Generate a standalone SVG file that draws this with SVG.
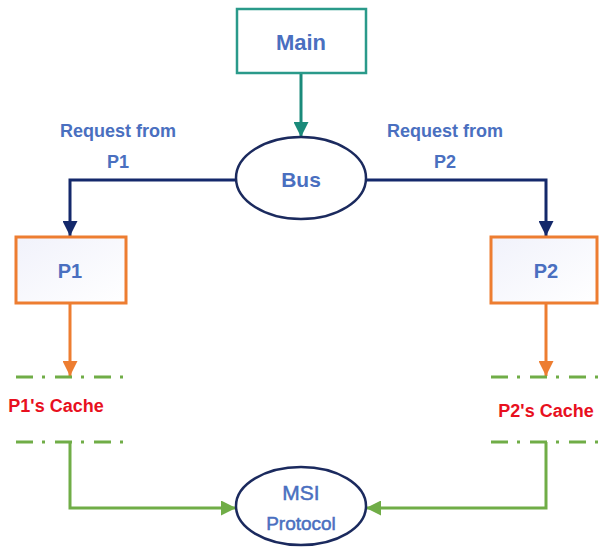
<svg xmlns="http://www.w3.org/2000/svg" width="599" height="547" viewBox="0 0 599 547">
  <style>
    .lbl { font-family: "Liberation Sans", Arial, sans-serif; fill: #4a6fc0; text-anchor: middle; }
    .b { font-weight: bold; }
    .semi { stroke: #4a6fc0; stroke-width: 0.5; }
    .cache { font-family: "Liberation Sans", Arial, sans-serif; font-weight: bold; fill: #e8101e; text-anchor: middle; font-size: 18px; }
    .proc { fill: url(#procFill); stroke: #ed7d31; stroke-width: 3; }
    .oval { fill: #ffffff; stroke: #1b2a5e; stroke-width: 2.5; }
    .dash { stroke: #70ad47; stroke-width: 3; stroke-dasharray: 17 9 3 10; fill: none; }
    .navy { stroke: #14296b; stroke-width: 3; fill: none; }
    .orange { stroke: #ed7d31; stroke-width: 3; fill: none; }
    .green { stroke: #70ad47; stroke-width: 3; fill: none; }
    .teal { stroke: #1a8a7a; stroke-width: 3; fill: none; }
  </style>
  <defs>
    <linearGradient id="procFill" x1="0" y1="0" x2="1" y2="1">
      <stop offset="0" stop-color="#f1f2fb"/>
      <stop offset="1" stop-color="#ffffff"/>
    </linearGradient>
    <marker id="arNavy" viewBox="0 0 10 10" refX="10" refY="5" markerWidth="5" markerHeight="5" orient="auto" markerUnits="strokeWidth">
      <path d="M0,0 L10,5 L0,10 Z" fill="#14296b"/>
    </marker>
    <marker id="arTeal" viewBox="0 0 10 10" refX="10" refY="5" markerWidth="5" markerHeight="5" orient="auto" markerUnits="strokeWidth">
      <path d="M0,0 L10,5 L0,10 Z" fill="#1a8a7a"/>
    </marker>
    <marker id="arOrange" viewBox="0 0 10 10" refX="10" refY="5" markerWidth="5" markerHeight="5" orient="auto" markerUnits="strokeWidth">
      <path d="M0,0 L10,5 L0,10 Z" fill="#ed7d31"/>
    </marker>
    <marker id="arGreen" viewBox="0 0 10 10" refX="10" refY="5" markerWidth="5" markerHeight="5" orient="auto" markerUnits="strokeWidth">
      <path d="M0,0 L10,5 L0,10 Z" fill="#70ad47"/>
    </marker>
  </defs>

  <rect width="599" height="547" fill="#ffffff"/>

  <!-- connectors -->
  <g id="connectors">
    <line class="teal" x1="301" y1="73" x2="301" y2="137" marker-end="url(#arTeal)"/>
    <polyline class="navy" points="236,180 70,180 70,236" marker-end="url(#arNavy)"/>
    <polyline class="navy" points="366,180 546,180 546,236" marker-end="url(#arNavy)"/>
    <line class="orange" x1="70" y1="303" x2="70" y2="376" marker-end="url(#arOrange)"/>
    <line class="orange" x1="546" y1="303" x2="546" y2="376" marker-end="url(#arOrange)"/>
    <polyline class="green" points="70,442 70,508 236,508" marker-end="url(#arGreen)"/>
    <polyline class="green" points="546,442 546,508 366,508" marker-end="url(#arGreen)"/>
    <text class="lbl b" font-size="18" x="118" y="137">Request from</text>
    <text class="lbl b" font-size="18" x="118" y="168">P1</text>
    <text class="lbl b" font-size="18" x="445" y="137">Request from</text>
    <text class="lbl b" font-size="18" x="445" y="168">P2</text>
  </g>

  <g id="main">
    <rect x="237" y="9" width="129" height="64" fill="#ffffff" stroke="#2a9a8a" stroke-width="2.5"/>
    <text class="lbl b" font-size="22" x="301" y="50">Main</text>
  </g>

  <g id="bus">
    <ellipse class="oval" cx="301" cy="178" rx="65" ry="41"/>
    <text class="lbl b" font-size="21" x="301" y="187">Bus</text>
  </g>

  <g id="p1">
    <rect class="proc" x="16" y="237" width="110" height="66"/>
    <text class="lbl b" font-size="20" x="70" y="278">P1</text>
  </g>

  <g id="p2">
    <rect class="proc" x="491" y="237" width="106" height="66"/>
    <text class="lbl b" font-size="20" x="546" y="278">P2</text>
  </g>

  <g id="p1-cache">
    <line class="dash" x1="16" y1="377" x2="124" y2="377"/>
    <line class="dash" x1="16" y1="442" x2="124" y2="442"/>
    <text class="cache" x="56" y="412">P1's Cache</text>
  </g>

  <g id="p2-cache">
    <line class="dash" x1="491" y1="377" x2="599" y2="377"/>
    <line class="dash" x1="491" y1="442" x2="599" y2="442"/>
    <text class="cache" x="546" y="417">P2's Cache</text>
  </g>

  <g id="msi">
    <ellipse class="oval" cx="301" cy="506" rx="65" ry="39"/>
    <text class="lbl semi" font-size="21" x="301" y="500">MSI</text>
    <text class="lbl semi" font-size="19" x="301" y="530">Protocol</text>
  </g>
</svg>
